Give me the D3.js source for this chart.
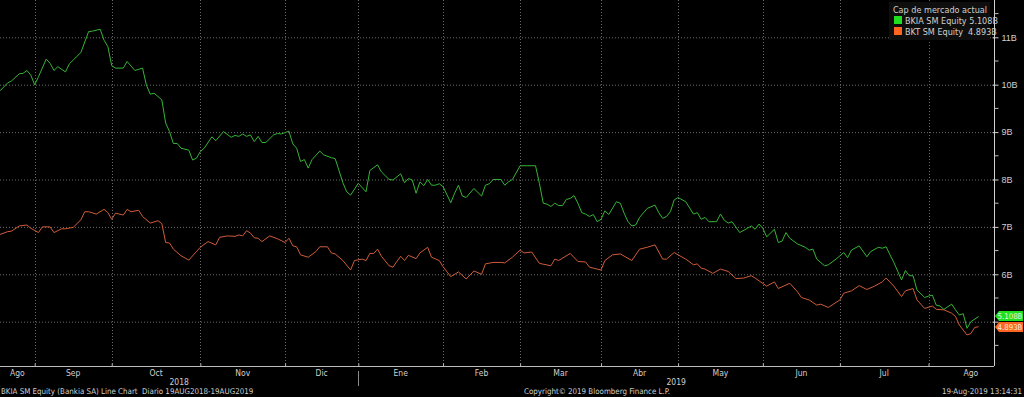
<!DOCTYPE html>
<html>
<head>
<meta charset="utf-8">
<title>BKIA vs BKT</title>
<script src="https://d3js.org/d3.v7.min.js"></script>
<style>
  body { margin: 0; background: #000; }
  svg { display: block; }
  text { font-family: "Liberation Sans Narrow", "DejaVu Sans Condensed", sans-serif; fill: #cfcfcf; }
</style>
</head>
<body>
<script>
// trading-day index (0 = 20 Aug 2018, 254 = 19 Aug 2019), market cap in billions EUR
var bkiaDay = [0,2,3,5,6,7,8,9,10,12,13,14,15,17,18,19,21,23,24,26,27,28,29,30,32,33,35,37,38,39,40,42,43,44,45,46,47,49,50,51,52,53,55,56,58,60,61,62,63,64,65,66,67,68,69,71,72,73,75,76,77,78,79,80,81,83,84,86,87,89,90,91,93,95,96,98,99,101,102,104,105,106,107,108,109,110,111,112,113,114,115,117,118,119,120,121,123,125,126,127,128,130,131,132,133,135,137,139,140,141,142,143,144,145,146,147,148,149,150,151,152,153,154,155,156,157,158,160,161,162,163,164,165,166,168,170,171,172,173,174,175,176,178,180,181,182,183,184,186,187,188,189,190,192,194,195,196,197,198,199,201,202,203,204,205,207,209,210,211,212,214,215,217,219,220,221,223,225,226,228,229,230,231,232,234,235,236,237,238,240,241,242,243,244,245,247,248,249,250,251,252,254];
var bkiaCap = [9.87,10.04,10.08,10.23,10.24,10.30,10.20,10.00,10.17,10.54,10.45,10.30,10.38,10.27,10.44,10.52,10.68,11.12,11.13,11.17,10.94,10.80,10.40,10.35,10.35,10.49,10.30,10.35,9.99,9.80,9.82,9.68,9.19,9.01,8.76,8.76,8.66,8.62,8.41,8.45,8.59,8.66,8.90,8.82,9.01,8.89,8.93,8.91,8.96,8.91,8.94,8.80,8.91,8.78,8.78,8.94,8.97,8.96,9.02,8.75,8.66,8.38,8.42,8.24,8.42,8.60,8.52,8.46,8.44,7.93,7.74,7.67,7.92,7.74,8.19,8.31,8.16,8.00,7.99,8.12,7.93,8.02,7.99,7.71,7.95,7.87,8.00,7.88,7.88,7.91,7.85,7.51,7.71,7.88,7.65,7.62,7.81,7.65,7.88,7.91,8.00,8.00,7.88,7.95,8.00,8.29,8.29,8.29,7.92,7.50,7.48,7.43,7.50,7.45,7.45,7.58,7.60,7.66,7.50,7.30,7.27,7.22,7.26,7.11,7.16,7.34,7.26,7.53,7.50,7.29,7.11,7.02,7.04,7.20,7.39,7.46,7.30,7.18,7.22,7.32,7.57,7.62,7.53,7.27,7.30,7.16,7.20,7.11,7.11,7.27,7.14,7.08,7.11,6.88,6.97,7.02,6.95,7.06,6.97,6.79,6.95,6.67,6.70,6.88,6.76,6.64,6.57,6.51,6.53,6.32,6.18,6.20,6.32,6.46,6.35,6.51,6.60,6.37,6.48,6.57,6.55,6.58,6.41,6.25,5.88,6.08,5.97,5.97,5.67,5.51,5.54,5.56,5.35,5.33,5.26,5.37,5.25,5.14,5.17,4.86,5.00,5.108];

var bktDay = [0,2,3,5,7,8,10,11,13,14,16,17,19,21,22,23,25,27,28,29,30,32,33,34,36,37,39,41,42,43,44,45,47,49,51,52,54,56,57,59,61,62,63,64,65,66,67,68,70,72,74,75,76,77,78,80,82,83,85,86,87,89,91,92,94,95,96,97,98,99,101,102,103,104,105,106,108,109,111,112,114,115,117,119,121,123,125,126,128,130,131,133,135,136,138,140,143,144,145,148,150,152,153,156,157,159,161,164,166,168,170,172,173,175,176,178,180,181,182,183,185,187,189,191,193,195,196,199,201,202,205,207,208,210,212,213,215,218,219,221,223,225,227,229,230,232,234,235,237,238,240,242,243,245,247,248,249,251,252,253,254];
var bktCap = [6.84,6.90,6.91,7.02,7.04,6.97,6.88,7.00,7.00,6.88,6.96,6.96,6.99,7.15,7.32,7.32,7.27,7.37,7.30,7.16,7.29,7.25,7.37,7.32,7.35,7.22,7.08,7.13,7.07,6.67,6.66,6.53,6.39,6.30,6.48,6.57,6.69,6.62,6.78,6.81,6.80,6.83,6.81,6.92,6.87,6.77,6.76,6.69,6.81,6.75,6.67,6.76,6.60,6.58,6.41,6.36,6.48,6.58,6.58,6.45,6.43,6.29,6.09,6.29,6.32,6.29,6.44,6.44,6.53,6.38,6.18,6.15,6.27,6.38,6.29,6.40,6.33,6.45,6.57,6.36,6.29,6.16,5.95,6.05,5.90,6.07,6.00,6.22,6.25,6.25,6.24,6.36,6.51,6.45,6.47,6.23,6.18,6.32,6.29,6.44,6.27,6.26,6.15,6.09,6.29,6.41,6.43,6.29,6.53,6.57,6.62,6.32,6.32,6.46,6.41,6.32,6.20,6.22,6.13,6.11,6.02,6.11,6.06,5.91,5.92,5.97,5.92,5.75,5.84,5.70,5.81,5.63,5.51,5.46,5.35,5.37,5.30,5.46,5.60,5.65,5.76,5.68,5.75,5.84,5.92,5.75,5.53,5.65,5.70,5.46,5.28,5.33,5.26,5.25,5.18,5.11,4.93,4.72,4.75,4.88,4.893];

// month start (trading-day index), last one = Sep 2019 (off chart)
var monthStart = [0, 9, 29, 52, 74, 93, 115, 135, 156, 176, 198, 218, 241, 263];
var monthLabel = ["Ago","Sep","Oct","Nov","Dic","Ene","Feb","Mar","Abr","May","Jun","Jul","Ago"];
var yearLabel = ["2018", "2019"];
var yearStart = [0, 93, 258];
var yTicks = [5, 6, 7, 8, 9, 10, 11];
var yMinor = [4.5, 5.5, 6.5, 7.5, 8.5, 9.5, 10.5, 11.5];

var series = [
  {name: "BKIA SM Equity", last: "5.108B", day: bkiaDay, cap: bkiaCap, line: "#36b436", tag: "#1fe01f"},
  {name: "BKT SM Equity", last: "4.893B", day: bktDay, cap: bktCap, line: "#cf5c3a", tag: "#ff6420"}
];

var width = 1024, height = 397;
var plotW = 994, plotH = 366;

var svg = d3.select("body").append("svg")
  .attr("width", width)
  .attr("height", height);

var x = d3.scaleLinear().domain([0, 258]).range([0, plotW]);
var y = d3.scaleLinear().domain([4.065, 11.787]).range([plotH, 0]);

// dotted grid
var grid = svg.append("g");
grid.selectAll("line.h")
  .data(yTicks)
  .enter().append("line")
  .attr("x1", 0).attr("x2", plotW)
  .attr("y1", function(d){ return y(d) + 0.5; })
  .attr("y2", function(d){ return y(d) + 0.5; })
  .attr("stroke", "#6a6a6a")
  .attr("stroke-dasharray", "1,2");
grid.selectAll("line.v")
  .data(monthStart.slice(1, 13))
  .enter().append("line")
  .attr("x1", function(d){ return Math.round(x(d)) + 0.5; })
  .attr("x2", function(d){ return Math.round(x(d)) + 0.5; })
  .attr("y1", 0).attr("y2", plotH)
  .attr("stroke", "#6a6a6a")
  .attr("stroke-dasharray", "1,2");

// lines
var line = d3.line()
  .x(function(d){ return x(d[0]); })
  .y(function(d){ return y(d[1]); });

series.slice().reverse().forEach(function(s){
  svg.append("path")
    .datum(d3.zip(s.day, s.cap))
    .attr("fill", "none")
    .attr("stroke", s.line)
    .attr("stroke-width", 1)
    .attr("d", line);
});

// right axis (5B label sits under the value tags, so it is left blank)
var yAxis = d3.axisRight(y)
  .tickValues(yTicks)
  .tickSize(4)
  .tickPadding(3)
  .tickFormat(function(d){ return d == 5 ? "" : d + "B"; });
var ya = svg.append("g")
  .attr("transform", "translate(" + (plotW + 0.5) + ",0)")
  .call(yAxis);
ya.select(".domain").attr("stroke", "#d0d0d0").attr("d", "M0,0V" + plotH);
ya.selectAll(".tick line").attr("stroke", "#d0d0d0").attr("x1", -2);
ya.selectAll(".tick text").attr("font-size", 9).attr("fill", "#cfcfcf").style("font-family", "inherit");
ya.selectAll("line.minor")
  .data(yMinor)
  .enter().append("line")
  .attr("class", "minor")
  .attr("x1", 0).attr("x2", 4)
  .attr("y1", function(d){ return y(d); })
  .attr("y2", function(d){ return y(d); })
  .attr("stroke", "#bdbdbd");

// bottom axis
var xAxis = d3.axisBottom(x)
  .tickValues(monthStart.slice(1, 13))
  .tickSize(-3)
  .tickFormat("");
var xa = svg.append("g")
  .attr("transform", "translate(0," + (plotH + 0.5) + ")")
  .call(xAxis);
xa.select(".domain").attr("stroke", "#bdbdbd").attr("d", "M0,0H" + plotW);
xa.selectAll(".tick line").attr("stroke", "#bdbdbd");

svg.selectAll("text.month")
  .data(monthLabel)
  .enter().append("text")
  .attr("class", "month")
  .attr("x", function(d, i){ return x((monthStart[i] + monthStart[i + 1]) / 2); })
  .attr("y", plotH + 10)
  .attr("text-anchor", "middle")
  .attr("font-size", 8.5)
  .text(function(d){ return d; });

svg.selectAll("text.year")
  .data(yearLabel)
  .enter().append("text")
  .attr("class", "year")
  .attr("x", function(d, i){ return x((yearStart[i] + yearStart[i + 1]) / 2); })
  .attr("y", plotH + 19)
  .attr("text-anchor", "middle")
  .attr("font-size", 8.5)
  .text(function(d){ return d; });

svg.append("line")
  .attr("x1", Math.round(x(yearStart[1])) + 0.5)
  .attr("x2", Math.round(x(yearStart[1])) + 0.5)
  .attr("y1", plotH + 5).attr("y2", plotH + 20)
  .attr("stroke", "#8a8a8a");

// last value tags, kept apart so they do not overlap
var tagY = [y(series[0].cap[series[0].cap.length - 1]) - 0.5];
tagY.push(Math.max(y(series[1].cap[series[1].cap.length - 1]), tagY[0] + 11));
series.forEach(function(s, i){
  var c = tagY[i];
  svg.append("path")
    .attr("d", "M" + (plotW + 1) + "," + c + "L" + (plotW + 5) + "," + (c - 5) + "H" + (width - 1) + "V" + (c + 5) + "H" + (plotW + 5) + "Z")
    .attr("fill", s.tag);
  svg.append("text")
    .attr("x", plotW + 16)
    .attr("y", c + 2.8)
    .attr("text-anchor", "middle")
    .attr("font-size", 7.8)
    .style("fill", "#f4f4dc")
    .text(s.last);
});

// legend
var lg = svg.append("g").attr("transform", "translate(889,2)");
lg.append("rect").attr("width", 101).attr("height", 38).attr("fill", "#0e0e0e");
lg.append("text")
  .attr("x", 51).attr("y", 11)
  .attr("text-anchor", "middle")
  .attr("font-size", 9)
  .text("Cap de mercado actual");
series.forEach(function(s, i){
  lg.append("rect")
    .attr("x", 5).attr("y", 14 + i * 11)
    .attr("width", 8).attr("height", 8)
    .attr("fill", s.tag);
  lg.append("text")
    .attr("x", 16).attr("y", 21.5 + i * 11)
    .attr("font-size", 9)
    .attr("xml:space", "preserve")
    .text(s.name + (i == 0 ? " " : "  ") + s.last);
});

// footer
svg.append("text").attr("x", 1).attr("y", 394).attr("font-size", 7.9)
  .attr("xml:space", "preserve")
  .text("BKIA SM Equity (Bankia SA) Line Chart  Diario 19AUG2018-19AUG2019");
svg.append("text").attr("x", 524).attr("y", 394).attr("font-size", 7.9)
  .text("Copyright\u00a9 2019 Bloomberg Finance L.P.");
svg.append("text").attr("x", 1022).attr("y", 394).attr("font-size", 7.9)
  .attr("text-anchor", "end")
  .text("19-Aug-2019 13:14:31");
</script>
</body>
</html>
